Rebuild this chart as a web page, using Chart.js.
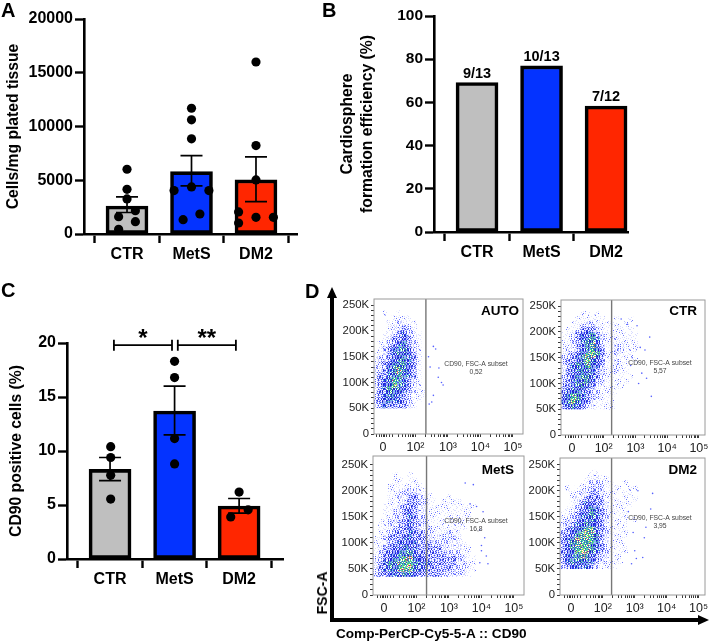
<!DOCTYPE html>
<html><head><meta charset="utf-8">
<style>
html,body{margin:0;padding:0;background:#fff;width:709px;height:642px;overflow:hidden}
canvas{position:absolute;left:0;top:0;filter:blur(.35px)}
canvas.flow{filter:blur(.55px)}
.t{position:absolute;font-family:"Liberation Sans",Arial,sans-serif;font-weight:bold;color:#000;white-space:nowrap;line-height:1;filter:blur(.3px)}
svg{position:absolute;left:0;top:0}
</style>
<script src="https://cdn.jsdelivr.net/npm/chart.js@4"></script>
</head><body>
<canvas id="cA" width="709" height="642"></canvas>
<canvas id="cB" width="709" height="642"></canvas>
<canvas id="cC" width="709" height="642"></canvas>
<canvas id="cD1" class="flow" width="709" height="642"></canvas>
<canvas id="cD2" class="flow" width="709" height="642"></canvas>
<canvas id="cD3" class="flow" width="709" height="642"></canvas>
<canvas id="cD4" class="flow" width="709" height="642"></canvas>
<svg width="709" height="642">
  <path d="M332 620 V292" stroke="#000" stroke-width="4" fill="none"/>
  <path d="M332 287 L327 298 L337 298 Z" fill="#000"/>
  <path d="M330 620 H702" stroke="#000" stroke-width="4" fill="none"/>
  <path d="M709 620 L698 615 L698 625 Z" fill="#000"/>
</svg>
<div class="t" style="left:1px;top:0px;font-size:20px">A</div>
<div class="t" style="left:322px;top:0px;font-size:20px">B</div>
<div class="t" style="left:1px;top:280px;font-size:20px">C</div>
<div class="t" style="left:305px;top:281px;font-size:20px">D</div>
<div class="t" style="left:322px;top:593px;font-size:14px;transform:translate(-50%,-50%) rotate(-90deg)">FSC-A</div>
<div class="t" style="left:336px;top:627px;font-size:13.6px">Comp-PerCP-Cy5-5-A :: CD90</div>
<script>
const categories = ['CTR', 'MetS', 'DM2'];
const barColors = ['#bfbfbf', '#0433ff', '#ff2600'];

// Panel A
const aMeans = [2600, 5800, 5030];
const aSemLow = [2000, 4470, 3010];
const aSemHigh = [3450, 7300, 7170];
const aDotX = [0, 0, 0, 0.13, -0.13, 0.13, -0.13,
               1, 1, 1, 1, 0.73, 1.27, 1.13, 0.87,
               2, 2, 2, 1.73, 1.73, 2, 2.27];
const aDotY = [6025, 4160, 3260, 2170, 1615, 1150, 435,
               11700, 10620, 8850, 4380, 4040, 4040, 1860, 1335,
               16000, 8230, 5030, 2050, 1025, 1550, 1550];

// Panel B
const bValues = [69.2, 76.9, 58.3];
const bLabels = ['9/13', '10/13', '7/12'];

// Panel C
const cMeans = [8.3, 13.7, 4.9];
const cSemLow = [7.25, 11.5, 4.25];
const cSemHigh = [9.4, 16, 5.6];
const cDotX = [0.01, 0.01, 0.01, 0.01, 1, 1, 1, 1, 2, 2.14, 1.87];
const cDotY = [10.4, 9.4, 7.75, 5.55, 18.3, 16.8, 11.15, 8.8, 6.2, 4.55, 3.9];
const cBrackets = [[0.06, 0.96, '*'], [1.05, 1.95, '**']];
const cBracketLevel = 19.8;

// Panel D: density, digits 0-6 per cell, rows from high FSC-A to low
const gridX = [-0.25, -0.1, 0.05, 0.2, 0.35, 0.5, 0.65, 0.8, 0.95, 1.1, 1.25, 1.4, 1.55, 1.7, 1.85, 2, 2.15, 2.3, 2.45, 2.6, 2.75, 2.9];
const gridFsc = [235, 225, 215, 205, 195, 185, 175, 165, 155, 145, 135, 125, 115, 105, 95, 85, 75, 65, 55];
const gridFscMets = [230, 220, 210, 200, 190, 180, 170, 160, 150, 140, 130, 120, 110, 100, 90, 80, 70, 60, 50, 40];
const densityAuto = [
"00100100000","00001111000","00011221100","00012232100","00112342210","00123343210","01123453210",
"01234554210","11234554310","12234554310","12345554310","22345654310","23345654310","23456543210",
"23456543210","23455543211","23455432111","23454432110","23433332100"];
const densityCtr = [
"0000110100000000","0001111110010010","0011222111110100","0112333211111010","1123445321111111",
"1123455421121111","1123456421122111","1223456531122111","2234566531121110","2334565431121101",
"2345565431121100","2345554321121100","2345554321111010","2345554221111100","3345543211111000",
"3455432211110000","4565432211100000","4565432111100000","3454322111100000"];
const densityMets = [
"0000100100000000000000","0000110110000000000000","0001111111000000000000","0001122221100000000000",
"0001122332110001000000","0001122332211011110000","0011123332211111111110","0011223432211111111100",
"0011223432211111111100","0112233432211111111100","0112233432221111111000","0112333433221122110000",
"1123334433322222210000","1123344443332222221000","1233445443333322221100","1234455543333332221100",
"2234556654433333322110","2345566654443333322110","2345566654433333222110","2334445543333322222100"];
const densityDm2 = [
"0000001100000000","0000011211000000","0000112221100100","0101122221111011","0011223321110110",
"0012233331110101","0012344332111110","0112345432111100","1123445432111100","1223445432111101",
"2234455432111100","2345566432111100","3345666532111100","3456666532111000","3456665432111100",
"3456665432111100","3455654322111000","3455554322111000","2344443211110000"];
const sparseAuto = [[1.55,170],[1.62,165],[1.45,130],[1.7,110],[1.8,100],[1.85,95],[1.5,62],[1.42,58],[1.55,75],[1.4,150],[1.72,128]];
const sparseCtr = [[1.55,225],[1.75,215],[2.05,212],[2.15,170],[1.9,150],[2.2,120],[2.35,110],[2.1,100],[2.5,75],[1.85,135],[2.45,190],[2.3,165]];
const sparseMets = [[2.65,175],[2.85,170],[3.05,160],[2.95,125],[3.1,110],[3.0,95],[3.15,75],[3.2,60],[2.95,62],[2.5,215],[2.75,212],[3.0,85]];
const sparseDm2 = [[2.56,195],[2.05,70],[2.25,72],[1.95,120],[2.35,130],[2.1,200],[2.5,165],[1.8,160],[2.3,110],[2.0,85],[1.9,60]];
const fscTicks = [0,10,20,30,40,50,60,70,80,90,100,110,120,130,140,150,160,170,180,190,200,210,220,230,240,250];
const fscLabelled = [50,100,150,200,250];
const cd90Ticks = [-0.2,-0.1,-0.05,0,0.05,0.1,0.2,0.3,0.48,0.6,0.7,0.78,0.85,0.9,0.95,1,1.3,1.48,1.6,1.7,1.78,1.85,1.9,1.95,2,2.3,2.48,2.6,2.7,2.78,2.85,2.9,2.95,3,3.3,3.48,3.6,3.7,3.78,3.85,3.9,3.95,4];
const cd90Labels = {0:'0', 1:'10\u00b2', 2:'10\u00b3', 3:'10\u2074', 4:'10\u2075'};

Chart.defaults.font.family = '"Liberation Sans", Arial, sans-serif';
Chart.defaults.animation = false;
Chart.defaults.devicePixelRatio = 1;

function fixScale(prop, size) {
  return function (s) {
    s[prop] = size;
    s.paddingTop = s.paddingBottom = s.paddingLeft = s.paddingRight = 0;
  };
}
function pad(box, yw, xh) {
  return { left: box.l - yw, top: box.t, right: 709 - box.r, bottom: 642 - box.b - xh };
}
function rows(xs, ys) { return xs.map((x, i) => ({ x: x, y: ys[i] })); }

const whiskers = (low, high) => ({
  id: 'whiskers',
  afterDatasetsDraw(chart) {
    const { ctx, scales: { x, y } } = chart;
    ctx.save(); ctx.strokeStyle = '#000'; ctx.lineWidth = 1.7;
    low.forEach((lo, i) => {
      const px = x.getPixelForValue(i), a = y.getPixelForValue(lo), b = y.getPixelForValue(high[i]);
      ctx.beginPath();
      ctx.moveTo(px, a); ctx.lineTo(px, b);
      ctx.moveTo(px - 11, a); ctx.lineTo(px + 11, a);
      ctx.moveTo(px - 11, b); ctx.lineTo(px + 11, b);
      ctx.stroke();
    });
    ctx.restore();
  }
});

function barChart(id, o) {
  const datasets = [{
    type: 'bar', order: 2,
    data: rows([0, 1, 2], o.means),
    backgroundColor: barColors, borderColor: '#000', borderWidth: 3.6, borderSkipped: false, barThickness: 42
  }];
  if (o.dotX) datasets.unshift({
    type: 'scatter', order: 0, data: rows(o.dotX, o.dotY),
    pointRadius: 4.6, pointBackgroundColor: '#000', pointBorderWidth: 0, clip: false
  });
  return new Chart(document.getElementById(id), {
    type: 'bar',
    data: { datasets },
    plugins: o.plugins || [],
    options: {
      responsive: false,
      layout: { padding: pad(o.box, o.yw, 40) },
      plugins: { legend: { display: false }, tooltip: { enabled: false } },
      scales: {
        x: {
          type: 'linear', offset: false, min: o.xMin, max: o.xMax,
          afterBuildTicks: s => { s.ticks = [0, 1, 2].map(v => ({ value: v })); },
          afterFit: fixScale('height', 40),
          border: { color: '#000', width: 2.6 },
          grid: { display: true, drawOnChartArea: false, drawTicks: true, tickLength: 9, tickColor: '#000', tickWidth: 2.4 },
          ticks: { color: '#000', font: { size: 16, weight: 'bold' }, padding: 2, maxRotation: 0, autoSkip: false, callback: v => categories[v] }
        },
        y: {
          min: 0, max: o.yMax,
          afterFit: fixScale('width', o.yw),
          border: { color: '#000', width: 2.6 },
          grid: { display: true, drawOnChartArea: false, drawTicks: true, tickLength: 9, tickColor: '#000', tickWidth: 2.4 },
          ticks: { color: '#000', font: { size: o.tickSize, weight: 'bold' }, padding: 2, stepSize: o.step, callback: v => String(v) },
          title: { display: true, text: o.title, color: '#000', font: { size: 15.7, weight: 'bold', lineHeight: 1.3 }, padding: { top: o.titlePad, bottom: 0 } }
        }
      }
    }
  });
}

barChart('cA', {
  box: { l: 84, t: 19, r: 297, b: 234 }, yw: 84, xMin: -0.667, xMax: 2.636, yMax: 20000, step: 5000, tickSize: 16,
  means: aMeans, dotX: aDotX, dotY: aDotY, title: 'Cells/mg plated tissue', titlePad: 3,
  plugins: [whiskers(aSemLow, aSemHigh)]
});

barChart('cB', {
  box: { l: 434, t: 16, r: 628, b: 232 }, yw: 97, xMin: -0.667, xMax: 2.34, yMax: 100, step: 20, tickSize: 15.5,
  means: bValues, title: ['Cardiosphere', 'formation efficiency (%)'], titlePad: 0,
  plugins: [{
    id: 'fractions',
    afterDatasetsDraw(chart) {
      const { ctx, scales: { x, y } } = chart;
      ctx.save(); ctx.fillStyle = '#000'; ctx.font = 'bold 14.5px "Liberation Sans"';
      ctx.textAlign = 'center'; ctx.textBaseline = 'middle';
      bLabels.forEach((t, i) => ctx.fillText(t, x.getPixelForValue(i), y.getPixelForValue(bValues[i]) - 9));
      ctx.restore();
    }
  }]
});

barChart('cC', {
  box: { l: 67, t: 343, r: 283, b: 559 }, yw: 67, xMin: -0.667, xMax: 2.68, yMax: 20, step: 5, tickSize: 16,
  means: cMeans, dotX: cDotX, dotY: cDotY, title: 'CD90 positive cells (%)', titlePad: 6,
  plugins: [whiskers(cSemLow, cSemHigh), {
    id: 'brackets',
    afterDatasetsDraw(chart) {
      const { ctx, scales: { x, y } } = chart;
      const py = y.getPixelForValue(cBracketLevel);
      ctx.save(); ctx.strokeStyle = '#000'; ctx.fillStyle = '#000'; ctx.lineWidth = 1.8;
      ctx.font = 'bold 24px "Liberation Sans"'; ctx.textAlign = 'center'; ctx.textBaseline = 'alphabetic';
      cBrackets.forEach(([a, b, star]) => {
        const pa = x.getPixelForValue(a), pb = x.getPixelForValue(b);
        ctx.beginPath();
        ctx.moveTo(pa, py - 5.5); ctx.lineTo(pa, py + 5.5);
        ctx.moveTo(pb, py - 5.5); ctx.lineTo(pb, py + 5.5);
        ctx.moveTo(pa, py); ctx.lineTo(pb, py);
        ctx.stroke();
        ctx.fillText(star, (pa + pb) / 2, py + 1);
      });
      ctx.restore();
    }
  }]
});

// Stipple textures for the density cells (ordered-dither tile)
const bayer = [[0,32,8,40,2,34,10,42],[48,16,56,24,50,18,58,26],[12,44,4,36,14,46,6,38],[60,28,52,20,62,30,54,22],
               [3,35,11,43,1,33,9,41],[51,19,59,27,49,17,57,25],[15,47,7,39,13,45,5,37],[63,31,55,23,61,29,53,21]];
const rowShift = [0,3,5,1,6,2,7,4,1,5];
const colShift = [0,2,7,3,5,1,6];
const levelInks = [
  [],
  [[3,'#6a74ff'],[13,'#d8dbff']],
  [[8,'#5560ff'],[26,'#c8ccff']],
  [[16,'#3a46f5'],[20,'#2a32c8'],[44,'#b8beff']],
  [[20,'#2a36ee'],[28,'#1c24b8'],[34,'#55c0d0'],[54,'#a4acff']],
  [[18,'#2a36e8'],[26,'#1c24b8'],[38,'#4fc888'],[44,'#70dcdc'],[58,'#98a2ff']],
  [[12,'#2a36e8'],[26,'#3cc878'],[34,'#d8e060'],[38,'#e86060'],[52,'#50d0b0']]
];
function tile(level) {
  const c = document.createElement('canvas'); c.width = c.height = 35;
  const g = c.getContext('2d');
  g.fillStyle = '#fff'; g.fillRect(0, 0, 35, 35);
  for (let y = 0; y < 35; y++) for (let x = 0; x < 35; x++) {
    const t = bayer[(y + colShift[x % 7]) % 8][(x + rowShift[y % 10]) % 8];
    const ink = levelInks[level].find(k => t < k[0]);
    if (ink) { g.fillStyle = ink[1]; g.fillRect(x, y, 1, 1); }
  }
  return g.createPattern(c, 'repeat');
}
const patterns = [1, 2, 3, 4, 5, 6].map(tile);

function flowChart(id, o) {
  const datasets = [];
  [1, 2, 3, 4, 5, 6].forEach(level => {
    const pts = [];
    o.density.forEach((row, r) => {
      for (let c = 0; c < row.length; c++) if (+row[c] === level) pts.push({ x: gridX[c], y: o.fsc[r] });
    });
    datasets.push({
      type: 'scatter', data: pts, pointStyle: 'rect', pointRadius: 3.75, pointBorderWidth: 0,
      pointBackgroundColor: patterns[level - 1], order: 10 - level
    });
  });
  datasets.push({ type: 'scatter', data: o.sparse.map(p => ({ x: p[0], y: p[1] })), pointRadius: 0.8, pointBorderWidth: 0, pointBackgroundColor: '#5560ff', order: 2 });
  datasets.push({ type: 'line', data: [{ x: o.gate, y: 0 }, { x: o.gate, y: o.yMax }], borderColor: '#777', borderWidth: 1.4, pointRadius: 0, order: 1 });
  return new Chart(document.getElementById(id), {
    type: 'scatter',
    data: { datasets },
    plugins: [{
      id: 'frameAndText',
      afterDraw(chart) {
        const { ctx, chartArea: a } = chart;
        ctx.save();
        ctx.strokeStyle = '#9a9a9a'; ctx.lineWidth = 1;
        ctx.strokeRect(a.left, a.top, a.right - a.left, a.bottom - a.top);
        ctx.fillStyle = '#000'; ctx.font = 'bold 13.5px "Liberation Sans"'; ctx.textAlign = 'right'; ctx.textBaseline = 'middle';
        ctx.fillText(o.name, o.nameX, o.nameY);
        ctx.fillStyle = '#444'; ctx.font = '6.8px "Liberation Sans"'; ctx.textAlign = 'center';
        ctx.fillText('CD90, FSC-A subset', o.noteX, o.noteY);
        ctx.fillText(o.note, o.noteX, o.noteY + 8);
        ctx.restore();
      }
    }],
    options: {
      responsive: false,
      layout: { padding: pad(o.box, 34, 22) },
      plugins: { legend: { display: false }, tooltip: { enabled: false } },
      scales: {
        x: {
          type: 'linear', min: o.xMin, max: o.xMax,
          afterBuildTicks: s => { s.ticks = cd90Ticks.map(v => ({ value: v })); },
          afterFit: fixScale('height', 22),
          border: { display: false },
          grid: { drawOnChartArea: false, drawTicks: true, tickLength: 3, tickColor: '#222', tickWidth: 0.9 },
          ticks: { color: '#222', font: { size: 12.5 }, padding: 3, maxRotation: 0, autoSkip: false, callback: v => cd90Labels[v] || '' }
        },
        y: {
          min: 0, max: o.yMax,
          afterBuildTicks: s => { s.ticks = fscTicks.map(v => ({ value: v })); },
          afterFit: fixScale('width', 34),
          border: { display: false },
          grid: { drawOnChartArea: false, drawTicks: true, tickLength: 3, tickColor: '#222', tickWidth: 0.9 },
          ticks: { color: '#222', font: { size: 11.3 }, padding: 2, autoSkip: false, callback: v => fscLabelled.includes(v) ? v + 'K' : (v === 0 ? '0' : '') }
        }
      }
    }
  });
}

flowChart('cD1', { box: { l: 374, t: 299, r: 523, b: 434 }, xMin: -0.277, xMax: 4.308, yMax: 262, gate: 1.32,
  density: densityAuto, fsc: gridFsc, sparse: sparseAuto, name: 'AUTO', nameX: 519, nameY: 311, note: '0,52', noteX: 476, noteY: 364 });
flowChart('cD2', { box: { l: 561, t: 300, r: 706, b: 435 }, xMin: -0.344, xMax: 4.19, yMax: 262, gate: 1.25,
  density: densityCtr, fsc: gridFsc, sparse: sparseCtr, name: 'CTR', nameX: 697, nameY: 311, note: '5,57', noteX: 660, noteY: 363 });
flowChart('cD3', { box: { l: 373, t: 456, r: 524, b: 595 }, xMin: -0.338, xMax: 4.31, yMax: 267, gate: 1.31,
  density: densityMets, fsc: gridFscMets, sparse: sparseMets, name: 'MetS', nameX: 514, nameY: 470, note: '16,8', noteX: 476, noteY: 521 });
flowChart('cD4', { box: { l: 560, t: 458, r: 707, b: 595 }, xMin: -0.34, xMax: 4.2, yMax: 263, gate: 1.275,
  density: densityDm2, fsc: gridFsc, sparse: sparseDm2, name: 'DM2', nameX: 697, nameY: 470, note: '3,95', noteX: 660, noteY: 518 });
</script>
</body></html>
